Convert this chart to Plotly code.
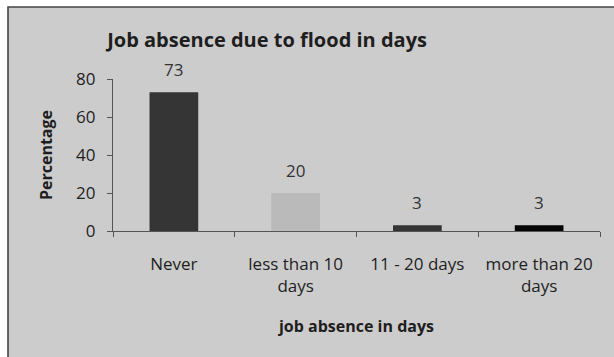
import plotly.graph_objects as go

# Survey results: how many days respondents were absent from work because of the flood
categories = ["Never", "less than 10<br>days", "11 - 20 days", "more than 20<br>days"]
percentages = [73, 20, 3, 3]
bar_colors = ["#353535", "#bababa", "#353535", "#050505"]
y_ticks = [0, 20, 40, 60, 80]
grid_levels = [40, 60, 80]

FONT = "Open Sans"
TEXT = "#1e1e1e"
BG = "#cccccc"

fig = go.Figure()
fig.add_trace(go.Bar(
    x=categories,
    y=percentages,
    marker=dict(color=bar_colors, line=dict(width=0)),
    width=0.4,
    hoverinfo="x+y",
))

# value labels above each bar
for cat, val in zip(categories, percentages):
    fig.add_annotation(
        x=cat, y=val, text=str(val), showarrow=False,
        yanchor="bottom", yshift=9,
        font=dict(family=FONT, size=17, color="#333333"),
    )

# horizontal grid lines
for g in grid_levels:
    fig.add_shape(
        type="line", xref="paper", yref="y", x0=0, x1=1, y0=g, y1=g,
        line=dict(color="#555555", width=1.2), layer="below",
    )

# chart frame (only the top and left edges fall inside the canvas)
fig.add_shape(
    type="rect", xref="paper", yref="paper",
    x0=-0.2156, x1=2.0, y0=-3.0, y1=1.4737,
    fillcolor=BG, line=dict(color="#444444", width=1.6), layer="below",
)

fig.update_layout(
    width=614, height=357,
    margin=dict(l=113, r=14, t=79, b=126),
    paper_bgcolor="white",
    plot_bgcolor="rgba(0,0,0,0)",
    showlegend=False,
    bargap=0.6,
    title=dict(
        text="<b>Job absence due to flood in days</b>",
        font=dict(family=FONT, size=20, color=TEXT),
        x=0.435, xref="container", xanchor="center",
        y=1 - 40 / 357, yref="container", yanchor="middle",
    ),
    xaxis=dict(
        type="category",
        showline=True, linecolor="#555555", linewidth=1.2,
        ticks="outside", tickson="boundaries", ticklen=5, tickcolor="#555555",
        ticklabelstandoff=17,
        tickfont=dict(family=FONT, size=17, color=TEXT),
        showgrid=False,
        title=dict(text="<b>job absence in days</b>", standoff=25,
                   font=dict(family=FONT, size=16, color=TEXT)),
    ),
    yaxis=dict(
        range=[0, 80], tickvals=y_ticks,
        showline=True, linecolor="#555555", linewidth=1.2,
        ticks="outside", ticklen=5, tickcolor="#555555",
        ticklabelstandoff=8,
        tickfont=dict(family=FONT, size=17, color=TEXT),
        showgrid=False, zeroline=False,
        title=dict(text="<b>Percentage</b>", standoff=19,
                   font=dict(family=FONT, size=16, color=TEXT)),
    ),
)

fig.write_html("out.html")
